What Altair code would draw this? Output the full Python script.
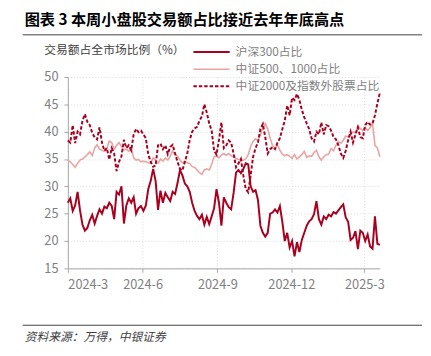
import altair as alt
import pandas as pd

# ---- data (one value every 3 calendar days from 2024-03-01) ----
start_date = "2024-03-01"
n_points = 129
hs300 = [27.0, 27.8, 25.5, 26.5, 29.0, 25.6, 23.0, 21.9, 22.4, 23.8,
         24.8, 23.2, 24.6, 25.8, 25.0, 26.3, 26.0, 27.0, 26.4, 24.0,
         29.0, 28.5, 30.0, 23.2, 26.5, 27.8, 27.0, 28.0, 25.0, 26.0,
         26.4, 25.5, 26.5, 29.5, 31.0, 33.2, 31.0, 25.7, 29.2, 27.0,
         28.8, 28.0, 27.3, 29.0, 28.6, 30.6, 33.0, 32.0, 30.5, 30.0,
         29.0, 27.0, 25.5, 24.6, 24.0, 24.8, 23.0, 24.4, 23.1, 24.5,
         26.0, 29.5, 27.0, 22.8, 28.0, 27.0, 26.2, 25.8, 28.8, 32.5,
         33.0, 32.4, 33.2, 34.2, 34.0, 30.0, 29.0, 29.3, 27.5, 22.8,
         21.5, 20.8, 21.5, 25.0, 25.2, 25.8, 25.2, 26.4, 23.5, 20.0,
         21.5, 18.8, 20.0, 17.2, 19.8, 18.0, 20.2, 21.5, 22.8, 23.6,
         24.0, 24.9, 27.3, 24.0, 23.0, 24.5, 24.0, 24.8, 24.5, 25.3,
         25.0, 25.6, 26.2, 26.7, 24.3, 23.5, 20.2, 20.6, 21.8, 18.5,
         21.9, 21.5, 20.0, 21.2, 19.0, 18.6, 24.5, 19.5, 19.3]
zz500_1000 = [34.8, 34.5, 34.0, 33.5, 34.2, 34.8, 35.0, 35.4, 35.8, 36.3,
              35.6, 37.0, 37.6, 36.8, 36.6, 36.4, 36.9, 38.3, 38.0, 36.8,
              37.5, 38.0, 37.3, 36.7, 36.8, 36.4, 37.0, 35.2, 34.8, 34.9,
              34.5, 34.6, 34.5, 34.3, 34.2, 35.2, 34.8, 34.2, 35.0, 34.6,
              35.2, 34.8, 35.5, 36.5, 35.8, 35.5, 34.8, 34.3, 34.6, 34.3,
              34.2, 33.6, 33.5, 33.0, 32.5, 32.2, 33.0, 33.2, 33.0, 34.0,
              35.4, 35.6, 35.2, 35.7, 36.0, 35.7, 36.0, 35.6, 35.4, 35.1,
              34.9, 34.8, 34.8, 35.0, 35.8, 37.3, 38.2, 38.7, 38.4, 39.5,
              40.6, 41.5, 40.5, 38.8, 37.4, 37.0, 37.6, 36.6, 35.9, 35.6,
              35.8, 35.5, 35.1, 35.8, 35.0, 35.4, 35.8, 36.4, 35.3, 35.6,
              35.5, 36.2, 36.6, 35.4, 34.8, 35.4, 35.8, 35.9, 36.9, 36.5,
              37.5, 38.2, 37.9, 38.4, 39.2, 39.0, 39.4, 40.0, 39.8, 41.0,
              40.6, 40.2, 40.8, 40.2, 40.7, 41.5, 37.5, 37.0, 35.4]
zz2000_other = [38.4, 38.0, 41.2, 37.9, 40.0, 39.5, 42.0, 43.2, 41.8, 41.2,
                39.8, 39.0, 38.6, 40.8, 38.0, 36.5, 37.0, 34.9, 37.0, 36.0,
                32.8, 34.5, 35.5, 38.5, 37.0, 37.5, 36.6, 39.5, 40.5, 39.9,
                40.2, 39.5, 38.8, 35.8, 34.5, 33.6, 33.8, 37.5, 37.8, 36.8,
                37.5, 35.9, 37.2, 37.6, 36.0, 34.5, 33.2, 32.9, 34.5, 36.0,
                38.5, 40.0, 40.6, 40.9, 42.0, 42.8, 45.0, 43.5, 41.5, 40.2,
                36.5, 35.8, 38.5, 41.7, 37.0, 37.5, 38.4, 38.0, 36.0, 33.5,
                34.2, 35.0, 32.0, 29.5, 28.9, 32.0, 35.4, 37.0, 38.0, 40.5,
                41.4, 39.0, 36.0, 36.8, 37.2, 36.8, 38.0, 38.8, 40.5, 42.0,
                44.8, 43.0, 46.2, 45.8, 46.9, 45.8, 44.0, 42.6, 41.5, 40.5,
                38.8, 38.2, 40.0, 39.5, 41.7, 39.5, 41.2, 41.0, 40.2, 39.0,
                38.6, 37.5, 36.0, 35.2, 36.5, 38.5, 40.0, 38.0, 39.5, 40.8,
                39.0, 38.8, 41.2, 41.8, 41.3, 41.5, 43.0, 45.2, 47.1]

series_names = ["沪深300占比", "中证500、1000占比", "中证2000及指数外股票占比"]
tick_dates = ["2024-03-01", "2024-06-01", "2024-09-01", "2024-12-01", "2025-03-01"]
y_ticks = [15, 20, 25, 30, 35, 40, 45, 50]

title_text = "图表 3 本周小盘股交易额占比接近去年年底高点"
ylabel_text = "交易额占全市场比例（%）"
source_text = "资料来源：万得，中银证券"

# ---- build ----
dates = pd.date_range(start_date, periods=n_points, freq="3D")
dark_red = "#A8001E"
pink = "#E9A3A3"
cjk = "Noto Sans CJK SC"

def frame(vals):
    return pd.DataFrame({"date": dates, "value": vals})

x_enc = alt.X(
    "date:T",
    scale=alt.Scale(domain=[dates[0].isoformat(), dates[-1].isoformat()]),
    axis=alt.Axis(
        values=[pd.Timestamp(d).isoformat() for d in tick_dates],
        labelExpr="timeFormat(datum.value, '%Y-%-m')",
        title=None, grid=True, gridColor="#D9D9D9", gridDash=[1, 2],
        domainColor="#A6A6A6", tickColor="#A6A6A6", tickSize=4,
        labelFontSize=13, labelColor="#7F7F7F", labelFont=cjk, labelPadding=7,
    ),
)
y_enc = alt.Y(
    "value:Q",
    scale=alt.Scale(domain=[15, 50], nice=False, zero=False),
    axis=alt.Axis(
        values=y_ticks, title=None, grid=True, gridColor="#D9D9D9", gridDash=[1, 2],
        domainColor="#A6A6A6", tickColor="#A6A6A6", tickSize=4,
        labelFontSize=13, labelColor="#7F7F7F", labelFont=cjk, labelPadding=6,
    ),
)

l_pink = alt.Chart(frame(zz500_1000)).mark_line(color=pink, strokeWidth=1.6).encode(x=x_enc, y=y_enc)
l_dash = alt.Chart(frame(zz2000_other)).mark_line(color=dark_red, strokeWidth=2, strokeDash=[3.5, 2]).encode(x=x_enc, y=y_enc)
l_solid = alt.Chart(frame(hs300)).mark_line(color=dark_red, strokeWidth=2).encode(x=x_enc, y=y_enc)

one = pd.DataFrame({"k": [0]})

def text_layer(txt, x, y, size, color, weight="normal", style="normal"):
    return alt.Chart(one).mark_text(
        align="left", baseline="middle", font=cjk, fontSize=size, color=color,
        fontWeight=weight, fontStyle=style,
    ).encode(x=alt.value(x), y=alt.value(y), text=alt.value(txt))

def rule_layer(x1, x2, y, color, width=1, dash=None):
    kw = dict(color=color, strokeWidth=width)
    if dash:
        kw["strokeDash"] = dash
    return alt.Chart(one).mark_rule(**kw).encode(x=alt.value(x1), x2=alt.value(x2), y=alt.value(y))

layers = [l_pink, l_dash, l_solid]
layers.append(text_layer(title_text, -44, -58.5, 15.5, "#000000", weight="bold"))
layers.append(rule_layer(-46, 361, -43, "#404040", 1))
layers.append(text_layer(ylabel_text, -24, -27, 12, "#404040"))
legend_y = [-25.5, -8, 9.5]
legend_color = [dark_red, pink, dark_red]
legend_dash = [None, None, [3.5, 2]]
for name, yy, cc, dd in zip(series_names, legend_y, legend_color, legend_dash):
    layers.append(rule_layer(128, 165, yy, cc, 2 if cc == dark_red else 1.6, dd))
    layers.append(text_layer(name, 171, yy, 12, "#7F7F7F"))
layers.append(rule_layer(-46, 361, 253, "#404040", 1))
layers.append(text_layer(source_text, -44, 265, 12, "#404040", style="italic"))

chart = alt.layer(*layers).properties(
    width=318, height=195,
    autosize=alt.AutoSizeParams(type="none"),
    padding={"left": 61, "top": 67, "right": 44, "bottom": 86},
).configure_view(stroke=None)

chart.save("out.html", embed_options={"renderer": "svg", "actions": False})
